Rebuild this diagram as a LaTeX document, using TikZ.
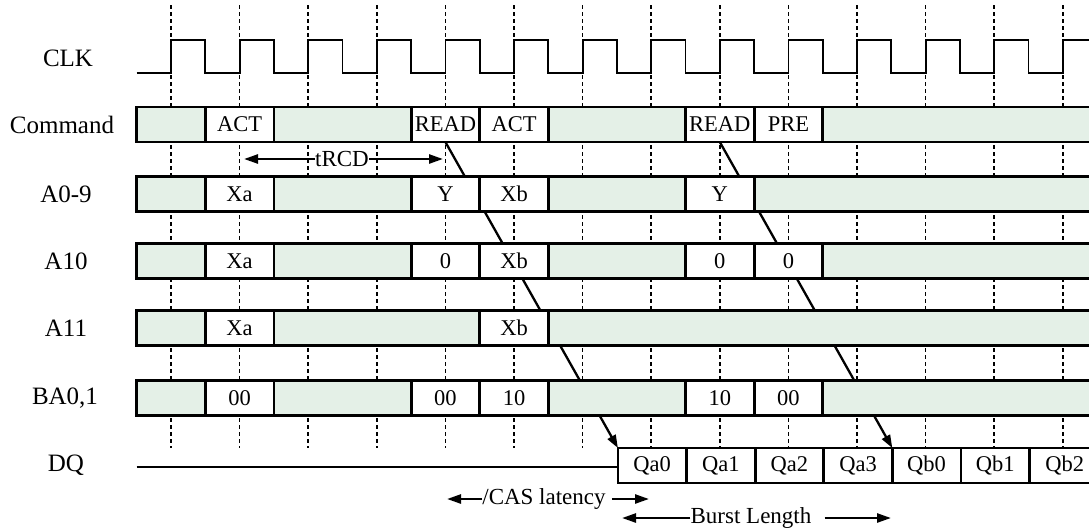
\documentclass[tikz,border=0pt]{standalone}
\usepackage{fontspec}
\setmainfont{Liberation Serif}
\usetikzlibrary{arrows.meta}
\pgfdeclarelayer{background}
\pgfsetlayers{background,main}
\definecolor{busgreen}{RGB}{228,240,231}
\newcommand\bcell[6]{\node[bus,fill=#5,minimum width={(#3)-(#2)}] (#1) at ({((#2)+(#3))/2},#4) {#6};}
\begin{document}
\begin{tikzpicture}[x=1pt,y=-1pt,
  bus/.style={draw,line width=2.8pt,minimum height=35pt,inner sep=0pt,outer sep=0pt,font=\fontsize{22.5}{26}\selectfont},
  lbl/.style={font=\fontsize{25}{29}\selectfont,inner sep=0pt},
  note/.style={font=\fontsize{23}{27}\selectfont,inner sep=0pt},
  clk/.style={line width=1.8pt},
  sig/.style={line width=2pt},
  dsh/.style={line width=1.6pt,dash pattern=on 4pt off 3pt},
  diag/.style={line width=2.3pt,-{Triangle[length=13pt,width=9pt]}},
  arr/.style={line width=2.5pt,-{Triangle[length=14pt,width=9pt]}}]
\clip (0,0) rectangle (1089,531);
% labels
\node[lbl] (lclk) at (68,58) {CLK};
\node[lbl] (lcmd) at (62,125) {Command};
\node[lbl] (la09) at (66,194) {A0-9};
\node[lbl] (la10) at (66,261) {A10};
\node[lbl] (la11) at (66,328) {A11};
\node[lbl] (lba) at (65,398) {BA0,1};
\node[lbl] (ldq) at (66,465) {DQ};
% clock
\draw[clk] (136.5,73) foreach \k in {0,...,12}{ -- ({171+\k*68.6},73) -- ({171+\k*68.6},40) -- ({205.3+\k*68.6},40) -- ({205.3+\k*68.6},73)} -- (1062.8,73) -- (1062.8,40) -- (1095,40);
% Command
\bcell{c0}{136.7}{205.3}{124.5}{busgreen}{}
\bcell{c1}{205.3}{273.9}{124.5}{white}{ACT}
\bcell{c2}{273.9}{411.1}{124.5}{busgreen}{}
\bcell{read1}{411.1}{479.7}{124.5}{white}{READ}
\bcell{c4}{479.7}{548.3}{124.5}{white}{ACT}
\bcell{c5}{548.3}{685.5}{124.5}{busgreen}{}
\bcell{read2}{685.5}{754.1}{124.5}{white}{READ}
\bcell{c8}{754.1}{822.7}{124.5}{white}{PRE}
\bcell{c9}{822.7}{1100}{124.5}{busgreen}{}
% A0-9
\bcell{a0}{136.7}{205.3}{194}{busgreen}{}
\bcell{a1}{205.3}{273.9}{194}{white}{Xa}
\bcell{a2}{273.9}{411.1}{194}{busgreen}{}
\bcell{a3}{411.1}{479.7}{194}{white}{Y}
\bcell{a4}{479.7}{548.3}{194}{white}{Xb}
\bcell{a5}{548.3}{685.5}{194}{busgreen}{}
\bcell{a6}{685.5}{754.1}{194}{white}{Y}
\bcell{a7}{754.1}{1100}{194}{busgreen}{}
% A10
\bcell{b0}{136.7}{205.3}{261}{busgreen}{}
\bcell{b1}{205.3}{273.9}{261}{white}{Xa}
\bcell{b2}{273.9}{411.1}{261}{busgreen}{}
\bcell{b3}{411.1}{479.7}{261}{white}{0}
\bcell{b4}{479.7}{548.3}{261}{white}{Xb}
\bcell{b5}{548.3}{685.5}{261}{busgreen}{}
\bcell{b6}{685.5}{754.1}{261}{white}{0}
\bcell{b7}{754.1}{822.7}{261}{white}{0}
\bcell{b8}{822.7}{1100}{261}{busgreen}{}
% A11
\bcell{d0}{136.7}{205.3}{328}{busgreen}{}
\bcell{d1}{205.3}{273.9}{328}{white}{Xa}
\bcell{d2}{273.9}{479.7}{328}{busgreen}{}
\bcell{d3}{479.7}{548.3}{328}{white}{Xb}
\bcell{d4}{548.3}{1100}{328}{busgreen}{}
% BA0,1
\bcell{e0}{136.7}{205.3}{398}{busgreen}{}
\bcell{e1}{205.3}{273.9}{398}{white}{00}
\bcell{e2}{273.9}{411.1}{398}{busgreen}{}
\bcell{e3}{411.1}{479.7}{398}{white}{00}
\bcell{e4}{479.7}{548.3}{398}{white}{10}
\bcell{e5}{548.3}{685.5}{398}{busgreen}{}
\bcell{e6}{685.5}{754.1}{398}{white}{10}
\bcell{e7}{754.1}{822.7}{398}{white}{00}
\bcell{e8}{822.7}{1100}{398}{busgreen}{}
% DQ
\bcell{qa0}{617.9}{686.5}{465.5}{white}{Qa0}
\bcell{qa1}{686.5}{755.1}{465.5}{white}{Qa1}
\bcell{qa2}{755.1}{823.7}{465.5}{white}{Qa2}
\bcell{qa3}{823.7}{892.3}{465.5}{white}{Qa3}
\bcell{qb0}{892.3}{960.9}{465.5}{white}{Qb0}
\bcell{qb1}{960.9}{1029.5}{465.5}{white}{Qb1}
\bcell{qb2}{1029.5}{1100}{465.5}{white}{Qb2}
\coordinate (dqs) at (136.5,466.5);
\draw[sig] (dqs) -- (dqs -| qa0.west);
% background: dashed grid and latency diagonals
\begin{pgfonlayer}{background}
\foreach \k in {0,...,13} \draw[dsh] ({171+\k*68.6},5) -- ({171+\k*68.6},448);
\draw[diag] (read1.south) -- (qa0.north west);
\draw[diag] (read2.south) -- (qb0.north west);
\end{pgfonlayer}
% tRCD
\node[note] (trcd) at (342,159) {tRCD};
\coordinate (trcdl) at (244,159);
\coordinate (trcdr) at (443,159);
\draw[arr] (trcd.west) -- (trcdl);
\draw[arr] (trcd.east) -- (trcdr);
% CAS latency
\node[note] (cas) at (544,499) {/CAS latency};
\coordinate (casl) at (447,499);
\coordinate (casr) at (649,499);
\draw[arr] (cas.west) -- (casl);
\draw[arr] ([xshift=6pt]cas.east) -- (casr);
% Burst Length
\node[note] (bl) at (751,518) {Burst Length};
\coordinate (bll) at (622,518);
\coordinate (blr) at (891,518);
\draw[arr] (bl.west) -- (bll);
\draw[arr] ([xshift=13pt]bl.east) -- (blr);
\end{tikzpicture}
\end{document}
